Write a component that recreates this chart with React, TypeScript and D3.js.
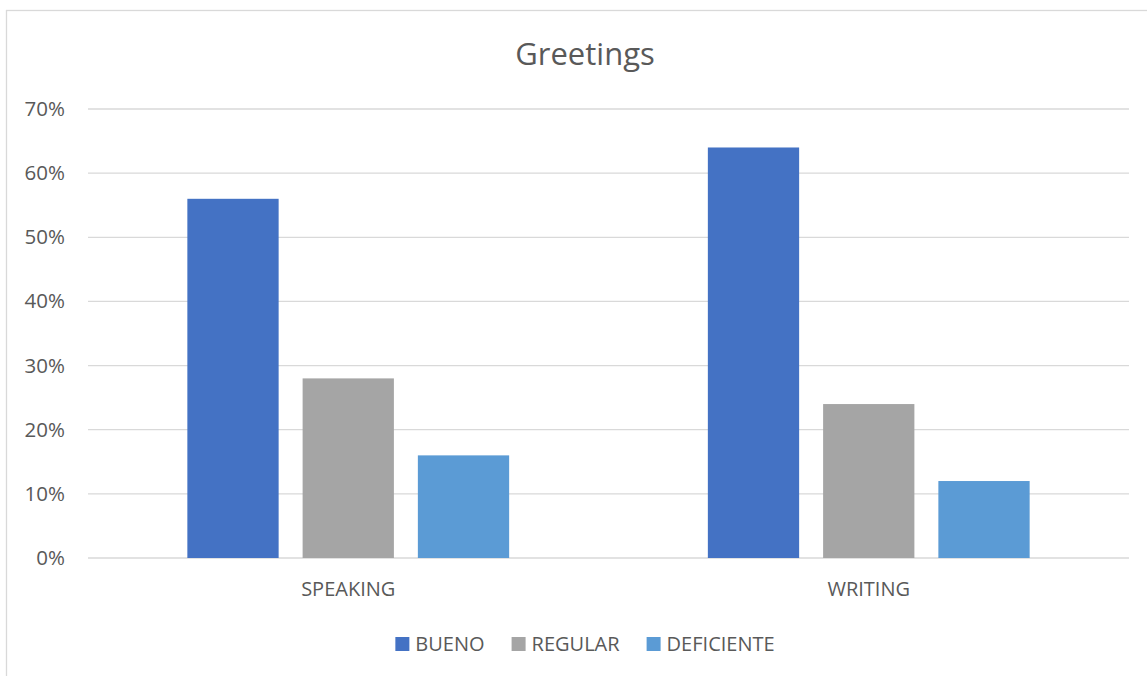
import { useEffect, useMemo, useRef, useState } from 'react';
import * as d3 from 'd3';

const CATEGORIES = ['SPEAKING', 'WRITING'];
const SERIES = ['BUENO', 'REGULAR', 'DEFICIENTE'];
const COLORS = ['#4472C4', '#A5A5A5', '#5B9BD5'];
const BUENO = [0.56, 0.64];
const REGULAR = [0.28, 0.24];
const DEFICIENTE = [0.16, 0.12];
const Y_TICKS = [0, 0.1, 0.2, 0.3, 0.4, 0.5, 0.6, 0.7];
const TITLE = 'Greetings';

const W = 1147, H = 676;
const M = { top: 109, right: 18, bottom: 118, left: 88 };
const CX = 585;
const FONT = '"Open Sans", "Noto Sans", sans-serif';
const TXT = '#595959';
const GRID = '#D9D9D9';

export default function App() {
  const legendRefs = useRef<(SVGTextElement | null)[]>([]);
  const [widths, setWidths] = useState<number[]>(SERIES.map(s => s.length * 11));

  useEffect(() => {
    document.body.style.margin = '0';
    setWidths(legendRefs.current.map(t => (t ? t.getComputedTextLength() : 0)));
  }, []);

  const values = [BUENO, REGULAR, DEFICIENTE];
  const x = useMemo(() => d3.scaleBand().domain(CATEGORIES).range([M.left, W - M.right]).padding(0), []);
  const xi = useMemo(() => d3.scaleBand().domain(SERIES).range([0, x.bandwidth()]).paddingInner(0.208).paddingOuter(0.862), [x]);
  const y = d3.scaleLinear().domain([0, 0.7]).range([H - M.bottom, M.top]);
  const fmt = d3.format('.0%');

  // legend layout: square 14, gap 6 to text, 27 between items
  const sq = 14, gapT = 6, gapI = 27;
  const itemW = widths.map(w => sq + gapT + w);
  const totalW = d3.sum(itemW) + gapI * (SERIES.length - 1);
  let lx = CX - totalW / 2;
  const legendX = itemW.map(w => { const p = lx; lx += w + gapI; return p; });

  return (
    <svg width={W} height={H} style={{ display: 'block', fontFamily: FONT }}>
      <rect x={0} y={0} width={W} height={H} fill="#fff" />
      <rect x={6.5} y={10.5} width={W + 20} height={H + 20} fill="none" stroke={GRID} strokeWidth={1.3} />
      <text x={CX} y={65} textAnchor="middle" fontSize={31} fill={TXT}>{TITLE}</text>

      {Y_TICKS.map(t => (
        <g key={t}>
          <line x1={M.left} x2={W - M.right} y1={y(t)} y2={y(t)} stroke={GRID} strokeWidth={1.3} />
          <text x={65} y={y(t) + 7} textAnchor="end" fontSize={20.5} fill={TXT}>{fmt(t)}</text>
        </g>
      ))}

      {CATEGORIES.map((c, ci) => (
        <g key={c}>
          {SERIES.map((s, si) => (
            <rect key={s} x={x(c)! + xi(s)!} y={y(values[si][ci])} width={xi.bandwidth()} height={y(0) - y(values[si][ci])} fill={COLORS[si]} />
          ))}
          <text x={x(c)! + x.bandwidth() / 2} y={596} textAnchor="middle" fontSize={20} fill={TXT}>{c}</text>
        </g>
      ))}

      {SERIES.map((s, si) => (
        <g key={s} transform={`translate(${legendX[si]},0)`}>
          <rect x={0} y={637} width={sq} height={sq} fill={COLORS[si]} />
          <text ref={el => { legendRefs.current[si] = el; }} x={sq + gapT} y={651} fontSize={20} fill={TXT}>{s}</text>
        </g>
      ))}
    </svg>
  );
}
